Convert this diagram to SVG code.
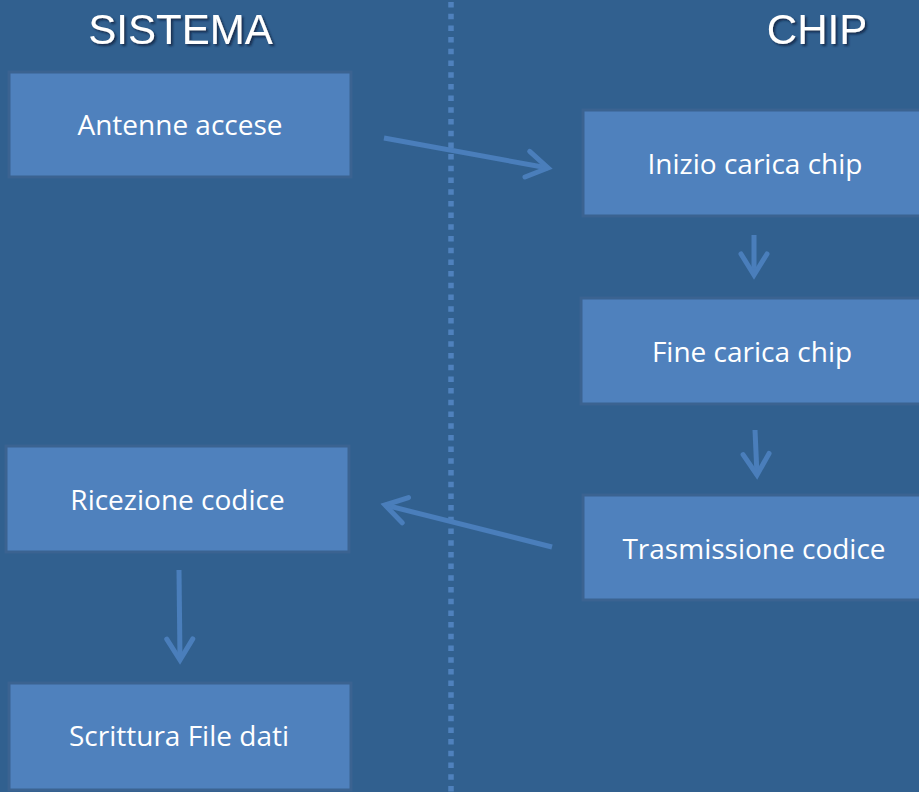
<svg xmlns="http://www.w3.org/2000/svg" width="919" height="792" viewBox="0 0 919 792">
<style>
.box{fill:#4F81BD;stroke:#3B6391;stroke-width:3}
.lbl{font-family:"Open Sans","Noto Sans",sans-serif;font-size:28px;fill:#FFFFFF;text-anchor:middle}
.title{font-family:"Liberation Sans",Arial,sans-serif;font-size:42px;fill:#FFFFFF;text-anchor:middle}
.conn{stroke:#4A7EBB;stroke-width:5;fill:none}
</style>
<defs>
<filter id="sh" x="-10%" y="-20%" width="130%" height="160%">
<feDropShadow dx="2" dy="2" stdDeviation="1.2" flood-color="#0E2440" flood-opacity="0.8"/>
</filter>
<marker id="ah" markerUnits="userSpaceOnUse" viewBox="-26 -16 30 32" refX="0" refY="0" markerWidth="30" markerHeight="32" orient="auto" overflow="visible">
<path d="M-21,-13 L0,0 L-21,13" fill="none" stroke="#4A7EBB" stroke-width="5" stroke-linejoin="miter" stroke-linecap="round"/>
</marker>
</defs>
<rect x="0" y="0" width="919" height="792" fill="#31608F"/>
<line x1="451" y1="2" x2="451" y2="792" stroke="#4F81BD" stroke-width="5.5" stroke-dasharray="5.5 6.2"/>
<g id="title-sistema"><text class="title" x="180.5" y="44" filter="url(#sh)">SISTEMA</text></g>
<g id="title-chip"><text class="title" x="817" y="44" filter="url(#sh)">CHIP</text></g>
<g id="n1"><rect class="box" x="9" y="72" width="342" height="105"/><text class="lbl" x="180" y="135">Antenne accese</text></g>
<g id="n2"><rect class="box" x="583" y="110" width="344" height="106"/><text class="lbl" x="755" y="174">Inizio carica chip</text></g>
<g id="n3"><rect class="box" x="581" y="298" width="346" height="106"/><text class="lbl" x="752" y="362">Fine carica chip</text></g>
<g id="n4"><rect class="box" x="583" y="495" width="344" height="105"/><text class="lbl" x="754" y="559">Trasmissione codice</text></g>
<g id="n5"><rect class="box" x="6" y="446" width="343" height="106"/><text class="lbl" x="177.5" y="510">Ricezione codice</text></g>
<g id="n6"><rect class="box" x="9" y="683" width="342" height="107"/><text class="lbl" x="179" y="746">Scrittura File dati</text></g>
<g id="connectors">
<line class="conn" x1="384" y1="138" x2="548" y2="168" marker-end="url(#ah)"/>
<line class="conn" x1="754" y1="235" x2="754" y2="275" marker-end="url(#ah)"/>
<line class="conn" x1="755" y1="430" x2="757" y2="475" marker-end="url(#ah)"/>
<line class="conn" x1="552" y1="547" x2="385" y2="505" marker-end="url(#ah)"/>
<line class="conn" x1="179" y1="570" x2="180" y2="660" marker-end="url(#ah)"/>
</g>
</svg>
